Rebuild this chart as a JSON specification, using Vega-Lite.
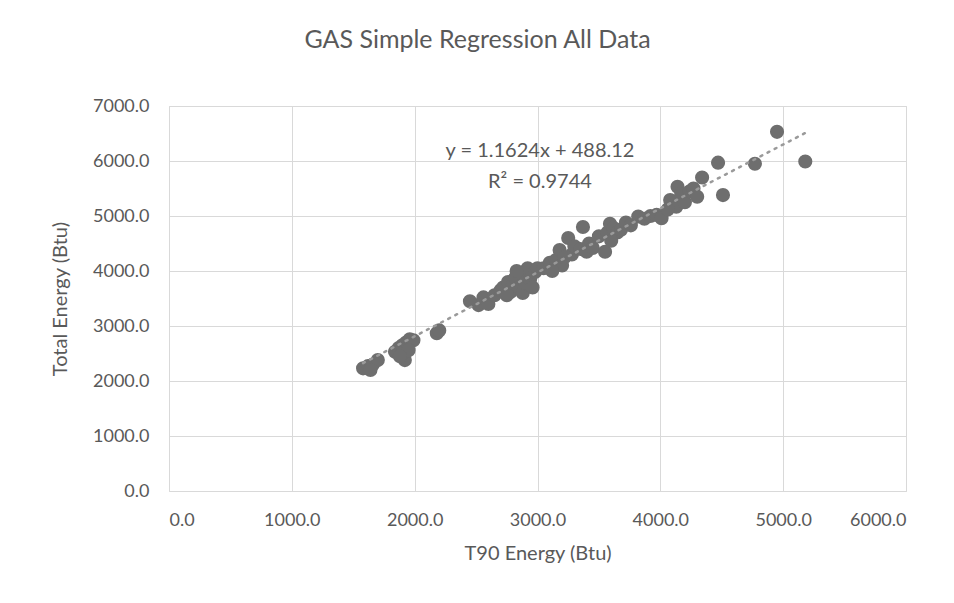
{
  "$schema": "https://vega.github.io/schema/vega-lite/v6.json",
  "width": 737,
  "height": 385,
  "autosize": {"type": "none"},
  "padding": {"left": 169, "top": 106, "right": 48, "bottom": 112},
  "background": "white",
  "title": {
    "text": "GAS Simple Regression All Data",
    "font": "Lato",
    "fontSize": 25,
    "fontWeight": "normal",
    "color": "#595959",
    "anchor": "middle",
    "offset": 44,
    "dx": -60
  },
  "config": {
    "view": {"stroke": "#d9d9d9", "strokeWidth": 1},
    "axis": {
      "labelFont": "Lato",
      "labelFontSize": 18,
      "labelColor": "#595959",
      "titleFont": "Lato",
      "titleFontSize": 20,
      "titleFontWeight": "normal",
      "titleColor": "#595959",
      "gridColor": "#d9d9d9",
      "gridWidth": 1,
      "domain": false,
      "ticks": false
    }
  },
  "datasets": {
    "pts": [
      {"x": 1580, "y": 2230}, {"x": 1620, "y": 2270}, {"x": 1660, "y": 2300}, {"x": 1700, "y": 2380}, {"x": 1640, "y": 2200},
      {"x": 1840, "y": 2530}, {"x": 1870, "y": 2600}, {"x": 1900, "y": 2650}, {"x": 1930, "y": 2700}, {"x": 1960, "y": 2760},
      {"x": 1990, "y": 2740}, {"x": 1920, "y": 2380}, {"x": 1900, "y": 2500}, {"x": 1950, "y": 2560}, {"x": 1880, "y": 2450},
      {"x": 2180, "y": 2870}, {"x": 2200, "y": 2920},
      {"x": 2450, "y": 3450}, {"x": 2520, "y": 3380}, {"x": 2560, "y": 3520}, {"x": 2600, "y": 3400}, {"x": 2650, "y": 3560}, {"x": 2700, "y": 3650},
      {"x": 2720, "y": 3700}, {"x": 2760, "y": 3800}, {"x": 2780, "y": 3620}, {"x": 2800, "y": 3750}, {"x": 2820, "y": 3880},
      {"x": 2850, "y": 3700}, {"x": 2870, "y": 3950}, {"x": 2880, "y": 3600}, {"x": 2900, "y": 3780}, {"x": 2920, "y": 4050},
      {"x": 2940, "y": 3850}, {"x": 2960, "y": 3700}, {"x": 2980, "y": 3980}, {"x": 3000, "y": 4050}, {"x": 2750, "y": 3560}, {"x": 2830, "y": 4000},
      {"x": 3050, "y": 4050}, {"x": 3100, "y": 4150}, {"x": 3150, "y": 4200}, {"x": 3180, "y": 4380}, {"x": 3200, "y": 4100},
      {"x": 3250, "y": 4600}, {"x": 3280, "y": 4300}, {"x": 3300, "y": 4450}, {"x": 3350, "y": 4400}, {"x": 3370, "y": 4800},
      {"x": 3400, "y": 4350}, {"x": 3420, "y": 4500}, {"x": 3220, "y": 4250}, {"x": 3120, "y": 4000},
      {"x": 3450, "y": 4420}, {"x": 3500, "y": 4630}, {"x": 3550, "y": 4350}, {"x": 3570, "y": 4700}, {"x": 3590, "y": 4860},
      {"x": 3620, "y": 4780}, {"x": 3650, "y": 4700}, {"x": 3680, "y": 4750}, {"x": 3720, "y": 4880}, {"x": 3760, "y": 4830},
      {"x": 3820, "y": 4990}, {"x": 3870, "y": 4950}, {"x": 3920, "y": 5000}, {"x": 3970, "y": 5020}, {"x": 4010, "y": 4960}, {"x": 3600, "y": 4550},
      {"x": 4080, "y": 5290}, {"x": 4130, "y": 5170}, {"x": 4140, "y": 5530}, {"x": 4170, "y": 5400}, {"x": 4200, "y": 5250},
      {"x": 4240, "y": 5450}, {"x": 4270, "y": 5500}, {"x": 4300, "y": 5350}, {"x": 4340, "y": 5700}, {"x": 4060, "y": 5120},
      {"x": 4470, "y": 5970}, {"x": 4510, "y": 5380}, {"x": 4770, "y": 5950}, {"x": 4950, "y": 6530}, {"x": 5180, "y": 5990}
    ],
    "trend": [{"x": 1580, "y": 2324.7}, {"x": 5180, "y": 6509.4}],
    "eq": [
      {"x": 3020, "y": 6180, "t": "y = 1.1624x + 488.12"},
      {"x": 3020, "y": 5620, "t": "R² = 0.9744"}
    ]
  },
  "layer": [
    {
      "data": {"name": "pts"},
      "mark": {"type": "circle", "size": 200, "color": "#6e6e6e", "opacity": 1},
      "encoding": {
        "x": {
          "field": "x", "type": "quantitative",
          "scale": {"domain": [0, 6000], "nice": false},
          "axis": {"title": "T90 Energy (Btu)", "values": [0, 1000, 2000, 3000, 4000, 5000, 6000], "format": ".1f", "labelPadding": 20, "titlePadding": 14}
        },
        "y": {
          "field": "y", "type": "quantitative",
          "scale": {"domain": [0, 7000], "nice": false},
          "axis": {"title": "Total Energy (Btu)", "values": [0, 1000, 2000, 3000, 4000, 5000, 6000, 7000], "format": ".1f", "labelPadding": 20, "titlePadding": 22}
        }
      }
    },
    {
      "data": {"name": "trend"},
      "mark": {"type": "line", "color": "#9a9a9a", "strokeWidth": 2.5, "strokeDash": [2, 6], "strokeCap": "round"},
      "encoding": {
        "x": {"field": "x", "type": "quantitative"},
        "y": {"field": "y", "type": "quantitative"}
      }
    },
    {
      "data": {"name": "eq"},
      "mark": {"type": "text", "font": "Lato", "fontSize": 20, "color": "#595959", "align": "center", "baseline": "middle"},
      "encoding": {
        "x": {"field": "x", "type": "quantitative"},
        "y": {"field": "y", "type": "quantitative"},
        "text": {"field": "t"}
      }
    }
  ]
}
